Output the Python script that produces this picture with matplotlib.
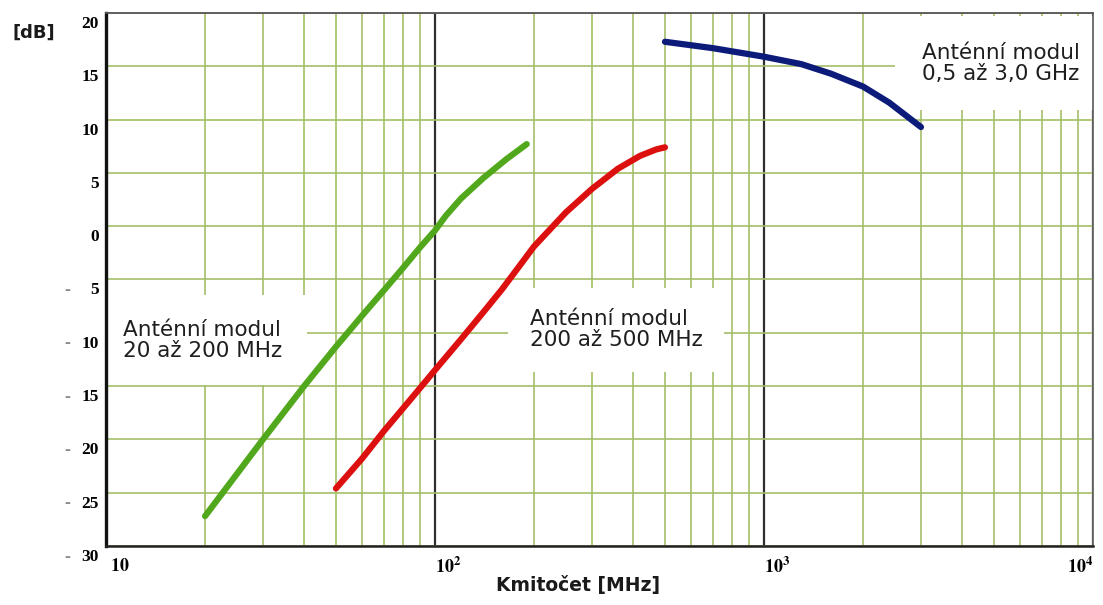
import numpy as np
import matplotlib
matplotlib.use("Agg")
import matplotlib.pyplot as plt
from matplotlib.ticker import LogLocator, NullFormatter
from matplotlib.transforms import ScaledTranslation, blended_transform_factory

plt.rcParams["mathtext.fontset"] = "stix"

# curve data (frequency MHz, gain dB)
f_low = [20, 30, 40, 50, 60, 70, 80, 90, 100, 108, 120, 140, 165, 190]
g_low = [-27.2, -20.0, -15.0, -11.3, -8.4, -6.0, -3.9, -2.0, -0.4, 1.0, 2.6, 4.5, 6.3, 7.7]

f_mid = [50, 60, 70, 84, 100, 120, 140, 160, 200, 250, 300, 360, 420, 470, 500]
g_mid = [-24.6, -21.8, -19.2, -16.3, -13.5, -10.6, -8.1, -5.9, -1.9, 1.3, 3.5, 5.4, 6.6, 7.2, 7.4]

f_high = [500, 700, 1000, 1300, 1600, 2000, 2400, 3000]
g_high = [17.3, 16.7, 15.9, 15.2, 14.3, 13.1, 11.6, 9.3]

labels = ["Anténní modul\n20 až 200 MHz",
          "Anténní modul\n200 až 500 MHz",
          "Anténní modul\n0,5 až 3,0 GHz"]
label_pos = [(11.3, -10.7), (194, -9.7), (3020, 15.3)]

yticks = [20, 15, 10, 5, 0, -5, -10, -15, -20, -25, -30]
xticks = [10, 100, 1000, 10000]
xticklabels = [r"$\mathbf{10}$", r"$\mathbf{10^{2}}$", r"$\mathbf{10^{3}}$", r"$\mathbf{10^{4}}$"]

GRID = "#a3bf66"

fig = plt.figure(figsize=(11.03, 6.05), dpi=100)
ax = fig.add_axes([106 / 1103, 1 - 546 / 605, 987 / 1103, 533 / 605])

ax.set_xscale("log")
ax.set_xlim(10, 10000)
ax.set_ylim(-30, 20)

ax.xaxis.set_minor_locator(LogLocator(base=10, subs=np.arange(2, 10)))
ax.xaxis.set_minor_formatter(NullFormatter())
ax.set_axisbelow(True)
ax.grid(axis="x", which="minor", color=GRID, lw=1.2)
ax.grid(axis="x", which="major", color="#2e2e2e", lw=1.6)
ax.grid(axis="y", which="major", color=GRID, lw=1.2)

ax.plot(f_low, g_low, color="#52a81c", lw=4.5, solid_capstyle="round", zorder=4)
ax.plot(f_mid, g_mid, color="#dd1010", lw=4.5, solid_capstyle="round", zorder=4)
ax.plot(f_high, g_high, color="#0c1a7a", lw=4.5, solid_capstyle="round", zorder=4)

pads = [1.15, 1.0, 1.25]
for txt, (x, y), p in zip(labels, label_pos, pads):
    ax.text(x, y, txt, ha="left", va="center", fontsize=15.5, color="#1e1e1e",
            family="DejaVu Sans", linespacing=1.05, zorder=2.2,
            bbox=dict(boxstyle=f"square,pad={p}", facecolor="white", edgecolor="none"))

for sp in ax.spines.values():
    sp.set_zorder(5)

# ticks
ax.tick_params(axis="both", which="both", length=0)
ax.set_yticks(yticks)
ax.set_yticklabels([str(abs(v)) for v in yticks], family="Liberation Serif",
                   fontweight="bold", fontsize=12.5)
ax.tick_params(axis="y", pad=5)
shift = ScaledTranslation(0, -9 / 100, fig.dpi_scale_trans)
for lab in ax.get_yticklabels():
    lab.set_transform(lab.get_transform() + shift)

trans = blended_transform_factory(ax.transAxes, ax.transData)
for v in yticks:
    if v < 0:
        ax.text(-0.0395, v, "-", transform=trans + shift, ha="center", va="center_baseline",
                color="#8a8a8a", fontsize=13, family="Liberation Serif",
                fontweight="bold")

ax.set_xticks(xticks)
ax.set_xticklabels(xticklabels, fontsize=13)
ax.tick_params(axis="x", pad=8)
xl = ax.get_xticklabels()
for i, lab in enumerate(xl):
    lab.set_horizontalalignment("right" if i == len(xl) - 1 else "left")
    if i == 0:
        lab.set_transform(lab.get_transform() + ScaledTranslation(4 / 100, 0, fig.dpi_scale_trans))

# frame
ax.spines["left"].set_linewidth(2.4)
ax.spines["left"].set_color("#111111")
ax.spines["bottom"].set_linewidth(1.8)
ax.spines["bottom"].set_color("#222222")
ax.spines["top"].set_linewidth(1.3)
ax.spines["top"].set_color("#555555")
ax.spines["right"].set_linewidth(1.3)
ax.spines["right"].set_color("#666666")

fig.text(12 / 1103, 1 - 33 / 605, "[dB]", ha="left", va="center",
         fontsize=13, fontweight="bold", family="DejaVu Sans", color="#1a1a1a")
fig.text(578 / 1103, 1 - 586 / 605, "Kmitočet [MHz]", ha="center", va="center",
         fontsize=13.5, fontweight="bold", family="DejaVu Sans", color="#1a1a1a")

fig.savefig("out.png", dpi=100)
